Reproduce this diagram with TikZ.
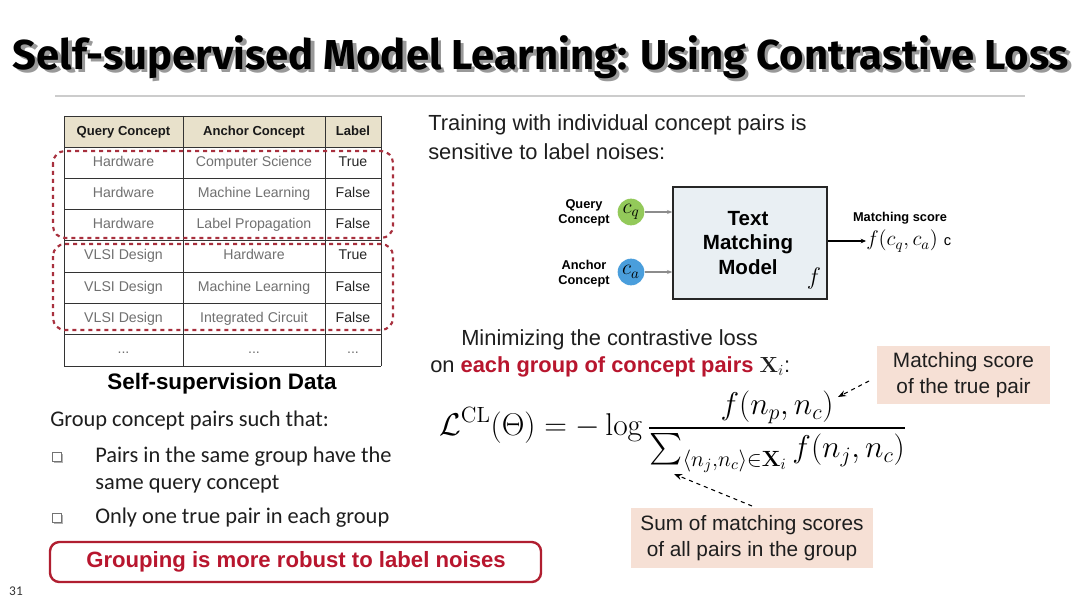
\RequirePackage{fix-cm}
\documentclass[tikz,border=0pt]{standalone}
\usepackage{amsmath,amssymb}
\usepackage[no-math]{fontspec}
\setmainfont{Liberation Sans}
\newfontfamily\calfont{Carlito}
\newfontfamily\titlefont{Fira Sans}
\usetikzlibrary{arrows.meta}
\definecolor{hdrfill}{HTML}{E8E1CB}
\definecolor{grpred}{HTML}{A8303E}
\definecolor{boxred}{HTML}{B01E30}
\definecolor{txtred}{HTML}{B8162E}
\definecolor{callfill}{HTML}{F6E0D5}
\definecolor{modelfill}{HTML}{E9EFF3}
\definecolor{cqgreen}{HTML}{93C95A}
\definecolor{cablue}{HTML}{4A9EDC}
\definecolor{celltxt}{HTML}{707070}
\definecolor{maintxt}{HTML}{1E1E1E}
\newcommand{\titletxt}{Self-supervised Model Learning: Using Contrastive Loss}
\tikzset{
  cellbase/.style={inner sep=0pt, text height=7.6pt, text depth=2.2pt},
  celltext/.style={cellbase, text=celltxt, font=\fontsize{10.6}{12}\selectfont},
  labtext/.style={cellbase, text=black!85, font=\fontsize{10.6}{12}\selectfont},
  hdrtext/.style={cellbase, text=black!90, font=\bfseries\fontsize{9.8}{12}\selectfont},
  grpbox/.style={draw=grpred, dashed, line width=1.6pt, rounded corners=9pt},
  calloutbox/.style={fill=callfill, inner sep=0pt, align=center, text=maintxt, font=\fontsize{15.6}{19}\selectfont},
  callarrow/.style={dashed, line width=0.8pt, -{Stealth[length=6pt,width=4.5pt]}},
  smallbold/.style={inner sep=0pt, align=center, font=\bfseries\fontsize{9.6}{11}\selectfont},
  bulletsq/.style={draw=black!55, fill=white, line width=0.6pt},
  caltext/.style={anchor=west, inner sep=0pt, text=maintxt, font=\calfont\fontsize{16.8}{20}\selectfont},
  armtext/.style={anchor=west, inner sep=0pt, text=maintxt, font=\fontsize{16.4}{20}\selectfont},
}
\begin{document}
\begin{tikzpicture}[x=0.75pt,y=-0.75pt]
\useasboundingbox (0,0) rectangle (1080,602);
\fill[white] (0,0) rectangle (1080,602);
% title (with shadow)
\node[inner sep=0pt] (title) at (541,59) {\resizebox{792pt}{!}{\titlefont\bfseries\rlap{\kern0.8pt\raisebox{-0.8pt}{\color{black!40}\titletxt}}\titletxt}};
\draw[black!20, line width=0.8pt] (55,96) -- (1025,96);
% table
\fill[hdrfill] (64,116) rectangle (381,147);
\foreach \yy in {116,147,178,209,240,272,303,334,366} \draw[black!80, line width=0.7pt] (64,\yy) -- (381,\yy);
\foreach \xx in {64,183,325,381} \draw[black!80, line width=0.7pt] (\xx,116) -- (\xx,366);
\node[hdrtext] (h1) at (123.5,131.5) {Query Concept};
\node[hdrtext] (h2) at (254,131.5) {Anchor Concept};
\node[hdrtext] (h3) at (353,131.5) {Label};
\foreach \q/\a/\l/\yy [count=\i] in {Hardware/Computer Science/True/162.5, Hardware/Machine Learning/False/193.5, Hardware/Label Propagation/False/224.5, VLSI Design/Hardware/True/256, VLSI Design/Machine Learning/False/287.5, VLSI Design/Integrated Circuit/False/318.5}{
  \node[celltext] (q\i) at (123.5,\yy) {\q};
  \node[celltext] (a\i) at (254,\yy) {\a};
  \node[labtext] (l\i) at (353,\yy) {\l};
}
\node[celltext] (q7) at (123.5,350) {...};
\node[celltext] (a7) at (254,350) {...};
\node[celltext] (l7) at (353,350) {...};
\draw[grpbox] (53,151) rectangle (393,238);
\draw[grpbox] (53,244) rectangle (393,330);
\node[inner sep=0pt, font=\bfseries\fontsize{16.8}{20}\selectfont] (selfdata) at (222,384) {Self-supervision Data};
% left bullets
\node[caltext] (group) at (50,421) {Group concept pairs such that:};
\fill[black!30] (54,454) rectangle (63,463);
\draw[bulletsq] (52.5,452.5) rectangle (61.5,461.5);
\fill[black!30] (54,515) rectangle (63,524);
\draw[bulletsq] (52.5,513.5) rectangle (61.5,522.5);
\node[caltext] (b1) at (95,457) {Pairs in the same group have the};
\node[caltext] (b1b) at (95,484) {same query concept};
\node[caltext] (b2) at (95,518) {Only one true pair in each group};
\draw[boxred, line width=1.8pt, rounded corners=7pt] (50,542) rectangle (541,582);
\node[inner sep=0pt, text=txtred, font=\bfseries\fontsize{16.6}{19}\selectfont] (robust) at (296,562) {Grouping is more robust to label noises};
\node[inner sep=0pt, text=black!80, font=\calfont\fontsize{10}{11}\selectfont] (pagenum) at (16,591) {31};
% right top text
\node[armtext] (train1) at (428,125) {Training with individual concept pairs is};
\node[armtext] (train2) at (428,152) {sensitive to label noises:};
% model diagram
\node[draw=black!85, fill=modelfill, line width=1pt, minimum width=115.5pt, minimum height=84pt, inner sep=0pt] (model) at (750,243) {};
\node[inner sep=0pt, align=center, font=\bfseries\fontsize{15.4}{18.5}\selectfont] (modeltext) at (748,243) {Text\\Matching\\Model};
\node[inner sep=0pt] (fsym) at (814,278) {\fontsize{18}{20}\selectfont$f$};
\node[circle, fill=cqgreen, minimum size=20pt, inner sep=0pt] (cq) at (631,212) {\fontsize{16}{18}\selectfont$c_q$};
\node[circle, fill=cablue, minimum size=20pt, inner sep=0pt] (ca) at (631,272) {\fontsize{16}{18}\selectfont$c_a$};
\node[smallbold] (qlab) at (584,213) {Query\\Concept};
\node[smallbold] (alab) at (584,274) {Anchor\\Concept};
\draw[black!45, line width=1pt, -{Stealth[length=4pt,width=3pt]}] (cq.east) -- (cq.east -| model.west);
\draw[black!45, line width=1pt, -{Stealth[length=4pt,width=3pt]}] (ca.east) -- (ca.east -| model.west);
\node[smallbold] (mslab) at (900,218) {Matching score};
\node[anchor=west, inner sep=0pt] (fcqca) at (866,241) {\fontsize{15.8}{18}\selectfont$f(c_q,c_a)$ \fontsize{11}{12}\selectfont c};
\draw[black, line width=1pt, -{Stealth[length=4pt,width=3.5pt]}] (model.east |- fcqca.west) -- (fcqca.west);
% loss text
\node[armtext] (min1) at (461,340) {Minimizing the contrastive loss};
\node[armtext] (min2) at (430,367) {on {\color{txtred}\bfseries each group of concept pairs} $\mathbf{X}_i$:};
\node[anchor=west, inner sep=0pt] (formula) at (439,432) {\fontsize{23.6}{27}\selectfont$\displaystyle \mathcal{L}^{\mathrm{CL}}(\Theta) = -\log \frac{f(n_p,n_c)}{\sum_{\langle n_j,n_c\rangle\in\mathbf{X}_i} f(n_j,n_c)}$};
% callouts
\node[calloutbox, minimum width=129.75pt, minimum height=43.5pt] (call1) at (963.5,375) {Matching score\\of the true pair};
\node[calloutbox, minimum width=181.5pt, minimum height=45pt] (call2) at (752,538) {Sum of matching scores\\of all pairs in the group};
\coordinate (t1) at (838,397);
\coordinate (t2) at (674,474);
\draw[callarrow] (869,381) -- (t1);
\draw[callarrow] (752,506) -- (t2);
\end{tikzpicture}
\end{document}
